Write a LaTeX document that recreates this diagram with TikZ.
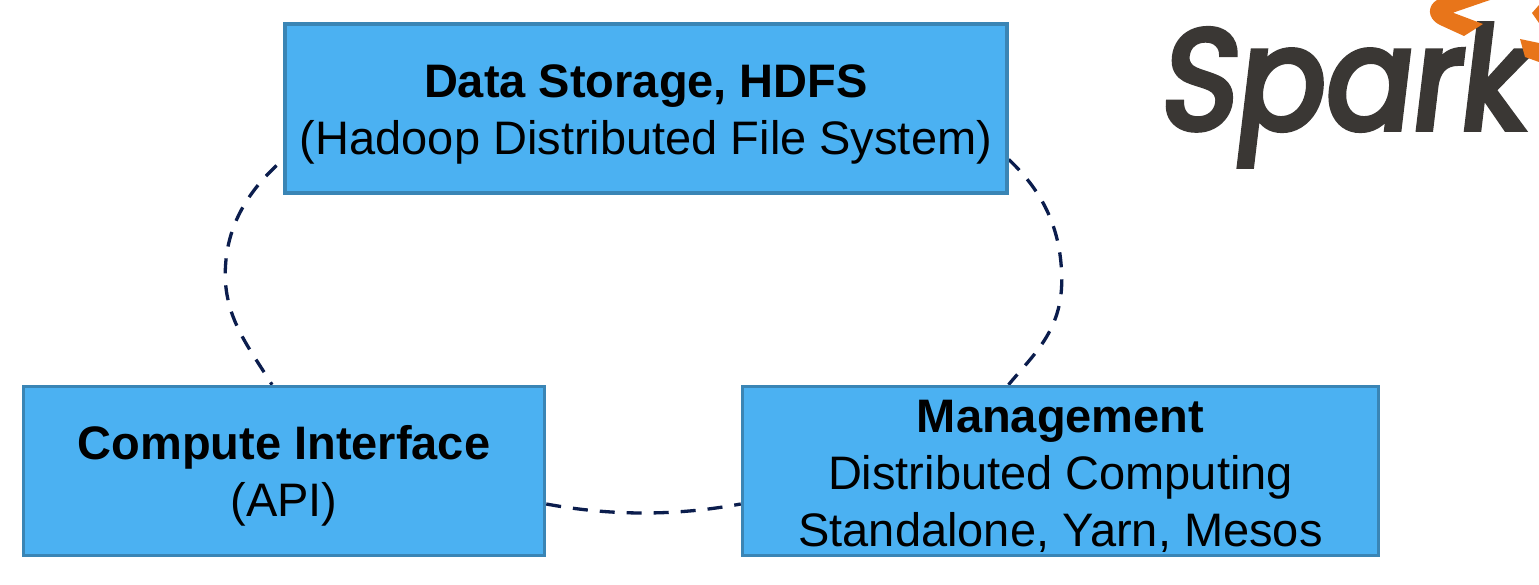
\documentclass[tikz,border=0pt]{standalone}
\usepackage{fontspec}
\setmainfont{Liberation Sans}
\newfontfamily\logofont[FakeSlant=0.12,FakeBold=4,FakeStretch=0.91]{Poppins}
\usetikzlibrary{calc}
\definecolor{boxfill}{HTML}{4BB1F2}
\definecolor{boxline}{HTML}{3A85B5}
\definecolor{linknavy}{HTML}{0B1D4D}
\definecolor{logogrey}{HTML}{3A3734}
\definecolor{logoorange}{HTML}{E8751A}
\newcommand{\firstlift}{\rule{0pt}{44pt}}
\tikzset{
  x=1pt,y=-1pt,
  infobox/.style={draw=boxline,fill=boxfill,line width=3.5pt,minimum width=#1,minimum height=169pt,inner sep=0pt,align=center,text=black,
    font=\fontsize{47}{57}\selectfont},
  link/.style={draw=linknavy,line width=3.3pt,dash pattern=on 15pt off 12pt},
  flame/.style={fill=logoorange,draw=none}
}
\begin{document}
\begin{tikzpicture}
\useasboundingbox (0,0) rectangle (1539,585);
\clip (0,0) rectangle (1539,585);
\path[fill=white] (0,0) rectangle (1539,585);
\coordinate (topc) at (646,108.5);
\coordinate (leftc) at (284,471);
\coordinate (rightc) at (1060.5,471);
% connectors drawn first, under the boxes
\path (topc) node[infobox=722pt,opacity=0] (top0) {}
      (leftc) node[infobox=521pt,opacity=0] (left0) {}
      (rightc) node[infobox=636pt,opacity=0] (right0) {};
\draw[link,dash phase=18pt] ([yshift=-51pt]top0.west) .. controls +(-38,33) and +(0,-45) .. ($(top0.west)+(-58,166)$) .. controls +(0,45) and +(-22,-36) .. ([xshift=-12pt]left0.north);
\draw[link] ([yshift=-51pt]top0.east) .. controls +(35,33) and +(0,-50) .. ($(top0.east)+(53,172)$) .. controls +(0,50) and +(25,-30) .. ([xshift=-52pt]right0.north);
\draw[link] ([yshift=-33pt]left0.east) .. controls +(65,12) and +(-65,12) .. ([yshift=-33pt]right0.west);
% boxes
\node[infobox=722pt] (top) at (topc) {\firstlift\textbf{Data Storage, HDFS}\\(Hadoop Distributed File System)};
\node[infobox=521pt] (left) at (leftc) {\firstlift\textbf{Compute Interface}\\(API)};
\node[infobox=636pt] (right) at (rightc) {\firstlift\textbf{Management}\\Distributed Computing\\Standalone, Yarn, Mesos};
% logo
\node[anchor=base west,inner sep=0pt,text=logogrey,font=\logofont\fontsize{142}{142}\selectfont] (logo) at (1158,129) {Spark};
\fill[flame] (1437,0) .. controls (1428,5) and (1426,18) .. (1440,25) -- (1464,36) -- (1483,24) -- (1453,12.7) -- (1490,0) -- cycle;
\fill[flame] (1520,39) -- (1539,43) -- (1539,62) -- (1525,57) -- cycle;
\fill[flame] (1539,5) -- (1532,13) -- (1539,23) -- cycle;
\end{tikzpicture}
\end{document}
